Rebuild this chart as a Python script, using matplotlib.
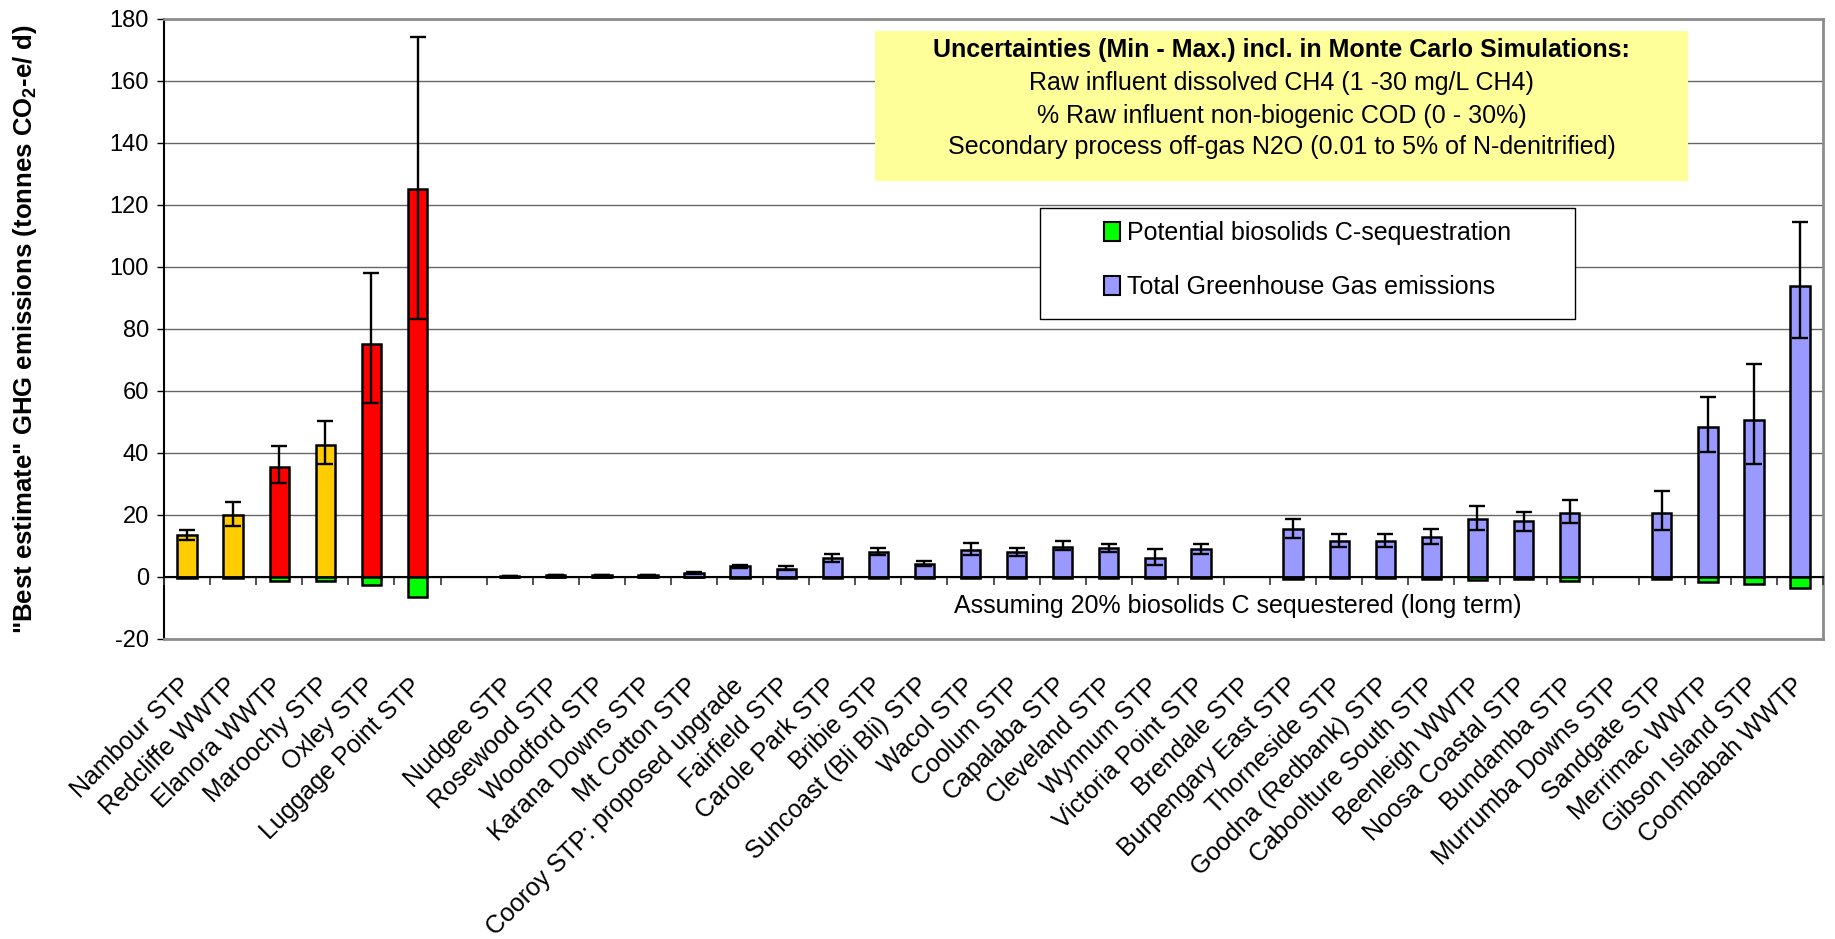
import numpy as np
import matplotlib
matplotlib.use("Agg")
import matplotlib.pyplot as plt
from matplotlib.patches import Rectangle, Patch

plt.rcParams["font.family"] = ["Liberation Sans", "DejaVu Sans"]
plt.rcParams["mathtext.fontset"] = "custom"
plt.rcParams["mathtext.rm"] = "Liberation Sans"
plt.rcParams["mathtext.bf"] = "Liberation Sans:bold"
plt.rcParams["axes.unicode_minus"] = False

# --- data -------------------------------------------------------------------
sites = [
    "Nambour STP", "Redcliffe WWTP", "Elanora WWTP", "Maroochy STP", "Oxley STP",
    "Luggage Point STP", "",
    "Nudgee STP", "Rosewood STP", "Woodford STP", "Karana Downs STP", "Mt Cotton STP",
    "Cooroy STP: proposed upgrade", "Fairfield STP", "Carole Park STP", "Bribie STP",
    "Suncoast (Bli Bli) STP", "Wacol STP", "Coolum STP", "Capalaba STP",
    "Cleveland STP", "Wynnum STP", "Victoria Point STP", "Brendale STP",
    "Burpengary East STP", "Thorneside STP", "Goodna (Redbank) STP",
    "Caboolture South STP", "Beenleigh WWTP", "Noosa Coastal STP", "Bundamba STP",
    "Murrumba Downs STP", "Sandgate STP", "Merrimac WWTP", "Gibson Island STP",
    "Coombabah WWTP",
]

nan = np.nan
# best-estimate total GHG emissions (tonnes CO2-e/d)
total_ghg = [
    13.6, 20.0, 35.6, 42.7, 75.1, 125.0, nan,
    0.3, 0.6, 0.7, 0.6, 1.3, 3.4, 2.7, 6.2, 8.1, 4.3, 8.8, 8.1, 9.8,
    9.3, 6.2, 8.9, nan, 15.6, 11.7, 11.7, 12.9, 18.6, 18.0, 20.6,
    nan, 20.6, 48.3, 50.6, 93.9,
]
# Monte Carlo minimum and maximum
ghg_min = [
    12.0, 16.6, 30.2, 36.3, 56.1, 83.1, nan,
    0.3, 0.6, 0.7, 0.6, 1.1, 2.8, 2.2, 4.9, 7.1, 3.5, 7.1, 6.9, 8.6,
    7.9, 4.0, 7.4, nan, 12.6, 9.6, 9.6, 10.5, 15.3, 14.9, 17.3,
    nan, 15.3, 40.2, 36.6, 77.2,
]
ghg_max = [
    15.3, 24.3, 42.4, 50.4, 98.0, 174.3, nan,
    0.3, 0.6, 0.7, 0.6, 1.6, 4.0, 3.4, 7.4, 9.3, 5.3, 10.9, 9.3, 11.5,
    10.6, 8.9, 10.5, nan, 18.6, 14.0, 14.0, 15.6, 22.8, 21.0, 24.9,
    nan, 27.6, 57.9, 68.8, 114.5,
]
# potential biosolids carbon sequestration (20 % sequestered, long term)
c_sequestration = [
    -0.3, -0.3, -1.3, -1.3, -2.7, -6.4, nan,
    -0.1, -0.1, -0.1, -0.1, -0.1, -0.2, -0.2, -0.3, -0.3, -0.2, -0.4, -0.3, -0.4,
    -0.4, -0.3, -0.4, nan, -0.5, -0.4, -0.4, -0.6, -1.0, -0.5, -1.2,
    nan, -0.7, -1.7, -2.3, -3.6,
]
# plant group: 'A' amber, 'R' red, 'B' remaining plants
plant_group = ["A", "A", "R", "A", "R", "R", ""] + ["B"] * 29

uncertainty_title = "Uncertainties (Min - Max.) incl. in Monte Carlo Simulations:"
uncertainty_lines = [
    "Raw influent dissolved CH4 (1 -30 mg/L CH4)",
    "% Raw influent non-biogenic COD (0 - 30%)",
    "Secondary process off-gas N2O (0.01 to 5% of N-denitrified)",
]
legend_labels = ["Potential biosolids C-sequestration",
                 "Total Greenhouse Gas emissions"]
note_text = "Assuming 20% biosolids C sequestered (long term)"
ylabel_text = r'"Best estimate" GHG emissions (tonnes CO$_{\mathbf{2}}$-e/ d)'

# --- styling ----------------------------------------------------------------
group_colour = {"A": "#FFCC00", "R": "#FF0000", "B": "#9999FF"}
seq_colour = "#00FF00"
FS = 18

x = np.arange(len(sites))
tot = np.array(total_ghg, float)
lo = np.array(ghg_min, float)
hi = np.array(ghg_max, float)
seq = np.array(c_sequestration, float)
has = ~np.isnan(tot)
colours = [group_colour.get(g, "white") for g in plant_group]

fig = plt.figure(figsize=(18.35, 9.39), dpi=100)
ax = fig.add_axes([0.0894, 0.3195, 0.9041, 0.6603])

bw = 0.42
ax.bar(x[has], tot[has], width=bw, color=[c for c, h in zip(colours, has) if h],
       edgecolor="black", linewidth=1.8, zorder=3)
ax.bar(x[has], seq[has], width=bw, color=seq_colour,
       edgecolor="black", linewidth=1.8, zorder=3)
ax.errorbar(x[has], tot[has], yerr=[tot[has] - lo[has], hi[has] - tot[has]],
            fmt="none", ecolor="black", elinewidth=1.7, capsize=6,
            capthick=1.7, zorder=4)

ax.set_xlim(-0.5, len(sites) - 0.5)
ax.set_ylim(-20, 180)
ax.set_yticks(np.arange(-20, 181, 20))
ax.yaxis.grid(True, color="#666666", linewidth=1.0, zorder=0)
ax.set_axisbelow(True)
ax.tick_params(axis="y", direction="out", length=5, width=1, colors="black",
               labelsize=17, pad=6)

ax.set_xticks(x)
ax.set_xticklabels(sites, rotation=45, ha="right", va="center",
                   rotation_mode="anchor", fontsize=FS)
ax.tick_params(axis="x", length=0, pad=31)

for side in ("top", "right", "bottom"):
    ax.spines[side].set_color("#8c8c8c")
    ax.spines[side].set_linewidth(2.0)
ax.spines["left"].set_color("black")
ax.spines["left"].set_linewidth(1.5)

# category axis crossing at zero with tick marks between categories
sec = ax.secondary_xaxis(0.1)
sec.set_xticks(np.arange(-0.5, len(sites), 1.0))
sec.tick_params(axis="x", direction="out", length=6, width=1.2,
                colors="#333333", labelbottom=False, labeltop=False)
for sp in sec.spines.values():
    sp.set_color("black")
    sp.set_linewidth(1.5)
sec.set_zorder(2.5)

# uncertainty box
bx0, bx1, by0, by1 = 0.4286, 0.9186, 0.7387, 0.9806
ax.add_patch(Rectangle((bx0, by0), bx1 - bx0, by1 - by0, transform=ax.transAxes,
                       facecolor="#FFFF99", edgecolor="none", zorder=5))
cx = (bx0 + bx1) / 2
ax.text(cx, 0.9492, uncertainty_title, transform=ax.transAxes, ha="center",
        va="center", fontsize=FS, fontweight="bold", zorder=6)
for yy, line in zip([0.8968, 0.8435, 0.7935], uncertainty_lines):
    ax.text(cx, yy, line, transform=ax.transAxes, ha="center", va="center",
            fontsize=FS, zorder=6)

# legend box
lx0, lx1, ly0, ly1 = 0.5280, 0.8505, 0.5161, 0.6958
ax.add_patch(Rectangle((lx0, ly0), lx1 - lx0, ly1 - ly0, transform=ax.transAxes,
                       facecolor="white", edgecolor="black", linewidth=1.0,
                       zorder=5))
handles = [Patch(facecolor=seq_colour, edgecolor="black", linewidth=1.5),
           Patch(facecolor=group_colour["B"], edgecolor="black", linewidth=1.5)]
leg = ax.legend(handles, legend_labels, loc="center",
                bbox_to_anchor=((lx0 + lx1) / 2, 0.6105),
                bbox_transform=ax.transAxes, frameon=False, fontsize=FS,
                handlelength=0.64, handleheight=0.8, handletextpad=0.25,
                labelspacing=1.2, borderpad=0)
leg.set_zorder(6)

ax.text(0.647, 0.053, note_text, transform=ax.transAxes, ha="center",
        va="center", fontsize=FS, zorder=6)

fig.text(0.0136, 0.6497, ylabel_text, rotation=90, ha="center", va="center",
         fontsize=18.5, fontweight="bold")

fig.savefig("out.png", dpi=100, facecolor="white")
